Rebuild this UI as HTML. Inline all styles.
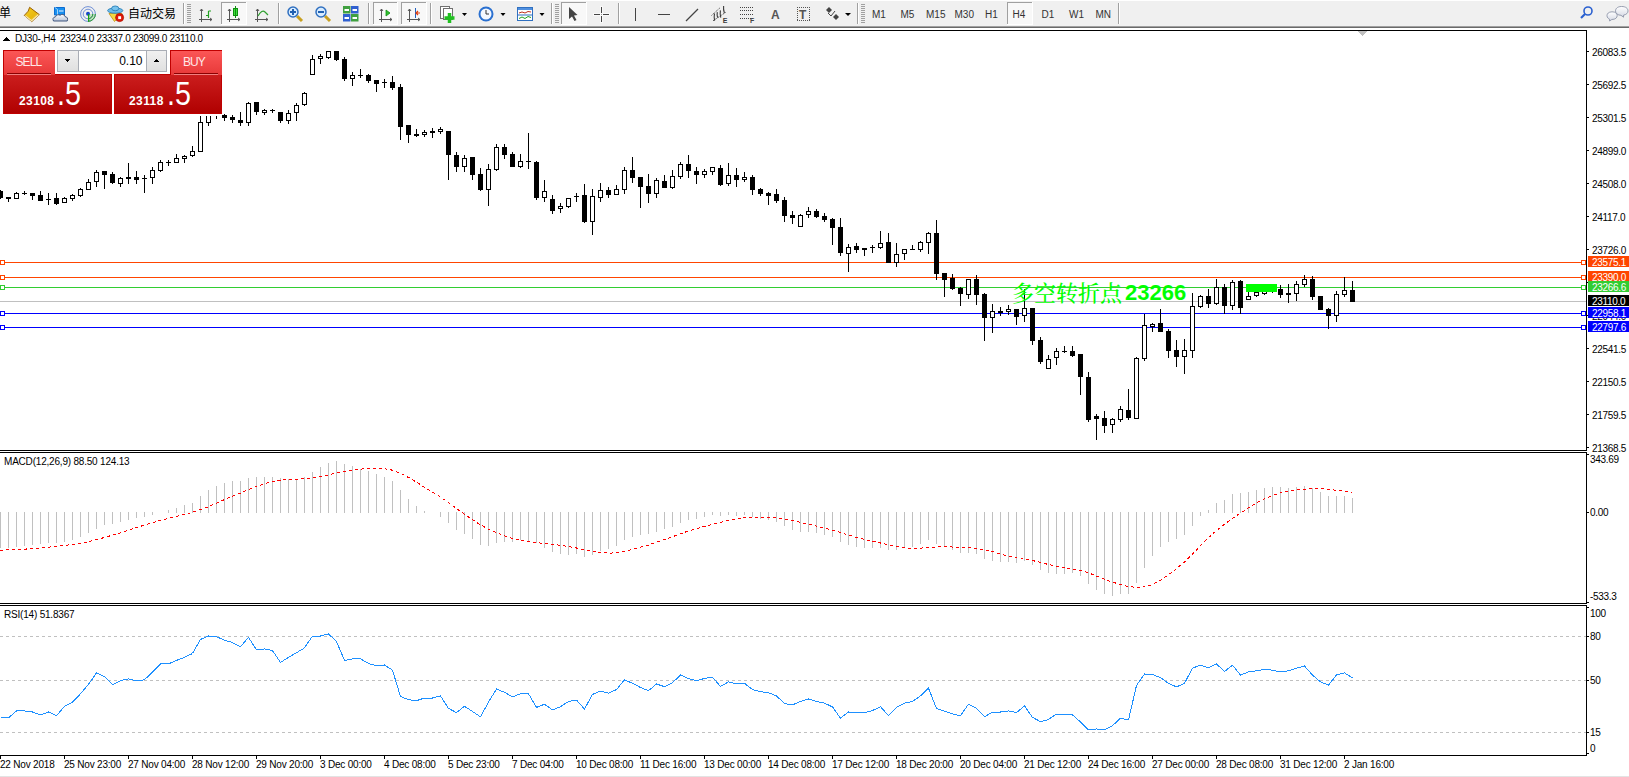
<!DOCTYPE html>
<html><head><meta charset="utf-8"><title>MT4 DJ30 H4</title>
<style>
html,body{margin:0;padding:0;background:#fff;overflow:hidden;}
body{width:1629px;height:777px;position:relative;}
svg{position:absolute;left:0;top:0;display:block;}
text{white-space:pre;}
</style></head><body>
<svg width="1629" height="777" viewBox="0 0 1629 777" shape-rendering="crispEdges">
<g id="toolbar" shape-rendering="auto">
<rect x="0" y="0" width="1629" height="26" fill="#f0f0f0"/>
<rect x="0" y="0" width="1629" height="1" fill="#ffffff"/>
<rect x="0" y="26" width="1629" height="1" fill="#a0a0a0"/>
<rect x="0" y="27" width="1629" height="1" fill="#696969"/>
<text x="-1" y="17" font-family="'Liberation Sans', 'Noto Sans CJK SC', sans-serif" font-size="12" fill="#000">单</text>
<defs><linearGradient id="gGold" x1="0" y1="0" x2="1" y2="1"><stop offset="0" stop-color="#f6d020"/><stop offset="0.6" stop-color="#e8b810"/><stop offset="1" stop-color="#f4e080"/></linearGradient><linearGradient id="gCloud" x1="0" y1="0" x2="0" y2="1"><stop offset="0" stop-color="#ffffff"/><stop offset="1" stop-color="#b8c4d8"/></linearGradient><radialGradient id="gSig" cx="0.3" cy="0.3" r="0.9"><stop offset="0" stop-color="#ffffff"/><stop offset="1" stop-color="#40a040"/></radialGradient></defs>
<path d="M29.6,7.3 L39.3,14.6 L31.8,21.6 L24.3,15.4 L28.2,11.2 Z" fill="url(#gGold)" stroke="#9a6006" stroke-width="1"/><path d="M25.2,15.6 L31.6,20.8 L38.4,14.8" fill="none" stroke="#f8e8b0" stroke-width="1.2"/>
<path d="M54.5,7.5 L64.5,7.5 L64.5,15 L54.5,15 Z" fill="#1890f0" stroke="#0c6cd0"/><path d="M55,7.5 L57.5,9.5 L57.5,15" fill="none" stroke="#bfe4ff" stroke-width="0.8"/><rect x="59" y="10.5" width="4.5" height="1" fill="#e8f4ff"/><path d="M53.5,21 Q51.8,17.5 55.5,16.8 Q56.8,13.8 60.2,15.2 Q63.5,12.8 65,16.6 Q68.6,17.2 67.2,21 Z" fill="url(#gCloud)" stroke="#40567e" stroke-width="1"/>
<path d="M88,14 L88,21.6 A7.6,7.6 0 0 0 95.6,14 Z" fill="#bfe0bf"/><circle cx="88" cy="14" r="7.4" fill="none" stroke="#5078d0" stroke-width="1" opacity="0.8"/><circle cx="88" cy="14" r="4.8" fill="none" stroke="#5078d0" stroke-width="1" opacity="0.8"/><path d="M88,21.4 A7.4,7.4 0 0 0 95.4,14 M88,18.8 A4.8,4.8 0 0 0 92.8,14" fill="none" stroke="#30a030" stroke-width="1"/><circle cx="88" cy="13.8" r="2" fill="#1848c8"/><rect x="88" y="14" width="1.2" height="7.6" fill="#18a018"/>
<path d="M109,13.5 L122,13.5 L114.5,21.5 Z" fill="#f4d840" stroke="#c09010" stroke-width="0.8"/><ellipse cx="115.2" cy="10.6" rx="7.6" ry="2.6" fill="#70bce8" stroke="#2a80b8" stroke-width="0.9"/><ellipse cx="115.2" cy="8.4" rx="3.6" ry="2.4" fill="#78c4ee" stroke="#2a80b8" stroke-width="0.9"/><circle cx="119.6" cy="17.6" r="4" fill="#e01808" stroke="#b01000" stroke-width="0.8"/><rect x="118.2" y="16.2" width="2.9" height="2.9" fill="#fff"/>
<text x="128" y="17.5" font-family="'Liberation Sans', 'Noto Sans CJK SC', sans-serif" font-size="12" fill="#000">自动交易</text>
<rect x="183" y="3" width="1" height="21" fill="#a0a0a0"/>
<rect x="184" y="3" width="1" height="21" fill="#fff"/>
<rect x="187" y="4" width="4" height="1" fill="#a0a0a0"/>
<rect x="187" y="6" width="4" height="1" fill="#a0a0a0"/>
<rect x="187" y="8" width="4" height="1" fill="#a0a0a0"/>
<rect x="187" y="10" width="4" height="1" fill="#a0a0a0"/>
<rect x="187" y="12" width="4" height="1" fill="#a0a0a0"/>
<rect x="187" y="14" width="4" height="1" fill="#a0a0a0"/>
<rect x="187" y="16" width="4" height="1" fill="#a0a0a0"/>
<rect x="187" y="18" width="4" height="1" fill="#a0a0a0"/>
<rect x="187" y="20" width="4" height="1" fill="#a0a0a0"/>
<rect x="187" y="22" width="4" height="1" fill="#a0a0a0"/>
<path d="M201.5,9 V22 M199,19.5 H212" stroke="#555" stroke-width="1" fill="none"/><path d="M200,11 L201.5,9 L203,11" stroke="#555" fill="none"/><path d="M210,18 L212,19.5 L210,21" stroke="#555" fill="none"/>
<path d="M208.5,11 V18 M206,15.5 H208.5 M208.5,11 H211" stroke="#20a020" stroke-width="1.2" fill="none"/>
<rect x="221" y="2" width="25" height="22" fill="#f8f8f8"/>
<rect x="221" y="2" width="25" height="1" fill="#a0a0a0"/>
<rect x="221" y="2" width="1" height="22" fill="#a0a0a0"/>
<rect x="221" y="24" width="26" height="1" fill="#fff"/>
<rect x="246" y="2" width="1" height="23" fill="#fff"/>
<path d="M229.5,9 V22 M227,19.5 H240" stroke="#555" stroke-width="1" fill="none"/><path d="M228,11 L229.5,9 L231,11" stroke="#555" fill="none"/><path d="M238,18 L240,19.5 L238,21" stroke="#555" fill="none"/>
<rect x="233.5" y="8.5" width="4" height="7" fill="#40e040" stroke="#109010"/><rect x="235" y="6" width="1" height="12" fill="#109010"/>
<path d="M257.5,9 V22 M255,19.5 H268" stroke="#555" stroke-width="1" fill="none"/><path d="M256,11 L257.5,9 L259,11" stroke="#555" fill="none"/><path d="M266,18 L268,19.5 L266,21" stroke="#555" fill="none"/>
<path d="M258,16 Q262,9 265,12 L268,15" stroke="#30a030" stroke-width="1.2" fill="none"/>
<rect x="278" y="3" width="1" height="21" fill="#a0a0a0"/>
<rect x="279" y="3" width="1" height="21" fill="#fff"/>
<line x1="296" y1="0" x2="0" y2="0" stroke="none"/>
<path d="M297,16 L302,21" stroke="#c8a020" stroke-width="3"/><circle cx="293" cy="12" r="5" fill="#d8ecff" stroke="#3070c0" stroke-width="1.5"/><rect x="290" y="11" width="6" height="2" fill="#2060b0"/>
<rect x="292" y="9" width="2" height="6" fill="#2060b0"/>
<line x1="324" y1="28" x2="0" y2="0" stroke="none"/>
<path d="M325,16 L330,21" stroke="#c8a020" stroke-width="3"/><circle cx="321" cy="12" r="5" fill="#d8ecff" stroke="#3070c0" stroke-width="1.5"/><rect x="318" y="11" width="6" height="2" fill="#2060b0"/>
<rect x="343" y="6" width="7.5" height="7.5" fill="#40a040"/><rect x="351" y="6" width="7.5" height="7.5" fill="#3060d0"/><rect x="343" y="14" width="7.5" height="7.5" fill="#3060d0"/><rect x="351" y="14" width="7.5" height="7.5" fill="#40a040"/><rect x="344.5" y="9" width="4.5" height="2" fill="#fff"/><rect x="352.5" y="9" width="4.5" height="2" fill="#fff"/><rect x="344.5" y="17" width="4.5" height="2" fill="#fff"/><rect x="352.5" y="17" width="4.5" height="2" fill="#fff"/>
<rect x="368" y="3" width="1" height="21" fill="#a0a0a0"/>
<rect x="369" y="3" width="1" height="21" fill="#fff"/>
<rect x="373" y="2" width="24" height="22" fill="#f8f8f8"/>
<rect x="373" y="2" width="24" height="1" fill="#a0a0a0"/>
<rect x="373" y="2" width="1" height="22" fill="#a0a0a0"/>
<rect x="373" y="24" width="25" height="1" fill="#fff"/>
<rect x="397" y="2" width="1" height="23" fill="#fff"/>
<path d="M381.5,9 V22 M379,19.5 H392" stroke="#555" stroke-width="1" fill="none"/><path d="M380,11 L381.5,9 L383,11" stroke="#555" fill="none"/><path d="M390,18 L392,19.5 L390,21" stroke="#555" fill="none"/>
<polygon points="386,10 386,16 390,13" fill="#30c030" stroke="#109010" stroke-width="0.8"/>
<rect x="401" y="2" width="25" height="22" fill="#f8f8f8"/>
<rect x="401" y="2" width="25" height="1" fill="#a0a0a0"/>
<rect x="401" y="2" width="1" height="22" fill="#a0a0a0"/>
<rect x="401" y="24" width="26" height="1" fill="#fff"/>
<rect x="426" y="2" width="1" height="23" fill="#fff"/>
<path d="M409.5,9 V22 M407,19.5 H420" stroke="#555" stroke-width="1" fill="none"/><path d="M408,11 L409.5,9 L411,11" stroke="#555" fill="none"/><path d="M418,18 L420,19.5 L418,21" stroke="#555" fill="none"/>
<rect x="415" y="8" width="1" height="10" fill="#2060c0"/><path d="M420,13 H416.5 M418,11 L416,13 L418,15" stroke="#e04010" stroke-width="1.2" fill="none"/>
<rect x="430" y="3" width="1" height="21" fill="#a0a0a0"/>
<rect x="431" y="3" width="1" height="21" fill="#fff"/>
<rect x="440.5" y="6.5" width="9" height="12" fill="#fff" stroke="#707070"/><rect x="443.5" y="8.5" width="9" height="11" fill="#fff" stroke="#707070"/><path d="M449.5,13 V23 M444.5,18 H454.5" stroke="#20c020" stroke-width="3.5"/>
<polygon points="462,13 467,13 464.5,16" fill="#000"/>
<circle cx="486" cy="14" r="7.5" fill="#2a70d0"/><circle cx="486" cy="14" r="5.5" fill="#f4f8ff"/><path d="M486,10 V14 H489" stroke="#333" fill="none"/>
<polygon points="500.5,13 505.5,13 503,16" fill="#000"/>
<rect x="517.5" y="7.5" width="15" height="13" fill="#fff" stroke="#3070c0"/><rect x="518" y="8" width="14" height="2" fill="#5090e0"/><path d="M519,13 L522,12 L525,13 L528,11.5 L531,12" stroke="#c03020" fill="none"/><rect x="518" y="14.5" width="14" height="1" fill="#3070c0"/><path d="M519,18.5 L522,17 L525,18.5 L528,16.5 L531,17.5" stroke="#20a020" fill="none"/>
<polygon points="539.5,13 544.5,13 542,16" fill="#000"/>
<rect x="551" y="3" width="1" height="21" fill="#a0a0a0"/>
<rect x="552" y="3" width="1" height="21" fill="#fff"/>
<rect x="555" y="4" width="4" height="1" fill="#a0a0a0"/>
<rect x="555" y="6" width="4" height="1" fill="#a0a0a0"/>
<rect x="555" y="8" width="4" height="1" fill="#a0a0a0"/>
<rect x="555" y="10" width="4" height="1" fill="#a0a0a0"/>
<rect x="555" y="12" width="4" height="1" fill="#a0a0a0"/>
<rect x="555" y="14" width="4" height="1" fill="#a0a0a0"/>
<rect x="555" y="16" width="4" height="1" fill="#a0a0a0"/>
<rect x="555" y="18" width="4" height="1" fill="#a0a0a0"/>
<rect x="555" y="20" width="4" height="1" fill="#a0a0a0"/>
<rect x="555" y="22" width="4" height="1" fill="#a0a0a0"/>
<rect x="561" y="2" width="25" height="22" fill="#f8f8f8"/>
<rect x="561" y="2" width="25" height="1" fill="#a0a0a0"/>
<rect x="561" y="2" width="1" height="22" fill="#a0a0a0"/>
<rect x="561" y="24" width="26" height="1" fill="#fff"/>
<rect x="586" y="2" width="1" height="23" fill="#fff"/>
<polygon points="569,7 569,19 572,16.5 574.5,21 576.5,20 574,15.5 577.5,15" fill="#444"/>
<g shape-rendering="crispEdges"><rect x="600" y="6" width="3" height="8" fill="#f9f9f9"/><rect x="600" y="15" width="3" height="8" fill="#f9f9f9"/><rect x="593" y="13" width="8" height="3" fill="#f9f9f9"/><rect x="602" y="13" width="8" height="3" fill="#f9f9f9"/><rect x="601" y="7" width="1" height="6" fill="#444"/><rect x="601" y="16" width="1" height="6" fill="#444"/><rect x="594" y="14" width="6" height="1" fill="#444"/><rect x="603" y="14" width="6" height="1" fill="#444"/><rect x="601" y="14" width="1" height="1" fill="#999"/></g>
<rect x="618" y="3" width="1" height="21" fill="#a0a0a0"/>
<rect x="619" y="3" width="1" height="21" fill="#fff"/>
<rect x="635" y="8" width="1" height="13" fill="#444"/>
<rect x="658" y="14" width="12" height="1" fill="#444"/>
<path d="M686,21 L698,9" stroke="#444" stroke-width="1.2"/>
<path d="M711.5,15.5 L719.8,8 M713,20.8 L726.2,12" stroke="#555" stroke-width="1" stroke-dasharray="1.2,0.8"/><path d="M714.5,13.5 Q713.8,17 714.6,20.6 M717.3,12.2 Q716.8,15 717.6,17.6 M720.4,10.4 Q719.8,14 720.8,17.6 M723.6,6 Q723.2,9.5 724.4,13.2" stroke="#3a3a3a" stroke-width="1.1" fill="none"/>
<text x="722.8" y="23" font-family="'Liberation Sans', 'DejaVu Sans', sans-serif" font-size="7" font-weight="bold" fill="#3a3a3a">E</text>
<line x1="740" y1="7.5" x2="754" y2="7.5" stroke="#444" stroke-dasharray="1,1"/>
<line x1="740" y1="10.5" x2="754" y2="10.5" stroke="#444" stroke-dasharray="1,1"/>
<line x1="740" y1="14.5" x2="754" y2="14.5" stroke="#444" stroke-dasharray="1,1"/>
<line x1="740" y1="18.5" x2="754" y2="18.5" stroke="#444" stroke-dasharray="1,1"/>
<text x="750" y="23" font-family="'Liberation Sans', 'DejaVu Sans', sans-serif" font-size="7" font-weight="bold" fill="#444">F</text>
<text x="771" y="19" font-family="'Liberation Sans', 'DejaVu Sans', sans-serif" font-size="12" font-weight="bold" fill="#555">A</text>
<g shape-rendering="crispEdges" fill="#555"><rect x="797" y="7" width="1" height="1"/><rect x="797" y="20" width="1" height="1"/><rect x="799" y="7" width="1" height="1"/><rect x="799" y="20" width="1" height="1"/><rect x="801" y="7" width="1" height="1"/><rect x="801" y="20" width="1" height="1"/><rect x="803" y="7" width="1" height="1"/><rect x="803" y="20" width="1" height="1"/><rect x="805" y="7" width="1" height="1"/><rect x="805" y="20" width="1" height="1"/><rect x="807" y="7" width="1" height="1"/><rect x="807" y="20" width="1" height="1"/><rect x="809" y="7" width="1" height="1"/><rect x="809" y="20" width="1" height="1"/><rect x="797" y="7" width="1" height="1"/><rect x="809" y="7" width="1" height="1"/><rect x="797" y="9" width="1" height="1"/><rect x="809" y="9" width="1" height="1"/><rect x="797" y="11" width="1" height="1"/><rect x="809" y="11" width="1" height="1"/><rect x="797" y="13" width="1" height="1"/><rect x="809" y="13" width="1" height="1"/><rect x="797" y="15" width="1" height="1"/><rect x="809" y="15" width="1" height="1"/><rect x="797" y="17" width="1" height="1"/><rect x="809" y="17" width="1" height="1"/><rect x="797" y="19" width="1" height="1"/><rect x="809" y="19" width="1" height="1"/></g>
<text x="799" y="19" font-family="'Liberation Sans', 'DejaVu Sans', sans-serif" font-size="12" font-weight="bold" fill="#555">T</text>
<polygon points="826,10 829,7 832,10 829,13" fill="#444"/><polygon points="833,17 836,14 839,17 836,20" fill="#444"/><path d="M828,13 L831,16 L835,11" stroke="#444" fill="none"/>
<polygon points="845,13 851,13 848,16" fill="#000"/>
<rect x="857" y="3" width="1" height="21" fill="#a0a0a0"/>
<rect x="858" y="3" width="1" height="21" fill="#fff"/>
<rect x="861" y="4" width="4" height="1" fill="#a0a0a0"/>
<rect x="861" y="6" width="4" height="1" fill="#a0a0a0"/>
<rect x="861" y="8" width="4" height="1" fill="#a0a0a0"/>
<rect x="861" y="10" width="4" height="1" fill="#a0a0a0"/>
<rect x="861" y="12" width="4" height="1" fill="#a0a0a0"/>
<rect x="861" y="14" width="4" height="1" fill="#a0a0a0"/>
<rect x="861" y="16" width="4" height="1" fill="#a0a0a0"/>
<rect x="861" y="18" width="4" height="1" fill="#a0a0a0"/>
<rect x="861" y="20" width="4" height="1" fill="#a0a0a0"/>
<rect x="861" y="22" width="4" height="1" fill="#a0a0a0"/>
<rect x="1007" y="2" width="25" height="22" fill="#f8f8f8"/>
<rect x="1007" y="2" width="25" height="1" fill="#a0a0a0"/>
<rect x="1007" y="2" width="1" height="22" fill="#a0a0a0"/>
<rect x="1007" y="24" width="26" height="1" fill="#fff"/>
<rect x="1032" y="2" width="1" height="23" fill="#fff"/>
<text x="872" y="18" font-family="'Liberation Sans', 'DejaVu Sans', sans-serif" font-size="10" fill="#333">M1</text>
<text x="900.5" y="18" font-family="'Liberation Sans', 'DejaVu Sans', sans-serif" font-size="10" fill="#333">M5</text>
<text x="926" y="18" font-family="'Liberation Sans', 'DejaVu Sans', sans-serif" font-size="10" fill="#333">M15</text>
<text x="954.5" y="18" font-family="'Liberation Sans', 'DejaVu Sans', sans-serif" font-size="10" fill="#333">M30</text>
<text x="985" y="18" font-family="'Liberation Sans', 'DejaVu Sans', sans-serif" font-size="10" fill="#333">H1</text>
<text x="1012.5" y="18" font-family="'Liberation Sans', 'DejaVu Sans', sans-serif" font-size="10" fill="#333">H4</text>
<text x="1041.5" y="18" font-family="'Liberation Sans', 'DejaVu Sans', sans-serif" font-size="10" fill="#333">D1</text>
<text x="1069" y="18" font-family="'Liberation Sans', 'DejaVu Sans', sans-serif" font-size="10" fill="#333">W1</text>
<text x="1095.5" y="18" font-family="'Liberation Sans', 'DejaVu Sans', sans-serif" font-size="10" fill="#333">MN</text>
<rect x="1118" y="3" width="1" height="21" fill="#a0a0a0"/>
<rect x="1119" y="3" width="1" height="21" fill="#fff"/>
<circle cx="1588" cy="11" r="4" fill="none" stroke="#2a60d0" stroke-width="1.6"/><path d="M1585,14 L1581,18" stroke="#2a60d0" stroke-width="2.2"/>
<defs><linearGradient id="gBub" x1="0" y1="0" x2="0" y2="1"><stop offset="0" stop-color="#ffffff"/><stop offset="1" stop-color="#d4d8e4"/></linearGradient></defs>
<path d="M1621.5,6.5 C1617,6.5 1615.5,9 1615.5,11 C1615.5,13.5 1618,15.3 1621,15.3 L1623.5,17.2 L1623.6,15.1 C1626.5,14.5 1628,13 1628,11 C1628,8.5 1626,6.5 1621.5,6.5 Z" fill="url(#gBub)" stroke="#8c94a8" stroke-width="0.9"/>
<path d="M1612,11.8 C1608.5,11.8 1607,13.8 1607,15.6 C1607,17.5 1608.4,18.8 1609.6,19.2 L1609.6,21 L1611.8,19.5 C1615.5,19.5 1617.2,17.6 1617.2,15.6 C1617.2,13.4 1615.5,11.8 1612,11.8 Z" fill="url(#gBub)" stroke="#8c94a8" stroke-width="0.9"/>
</g>
<g id="chart">
<rect x="0" y="30" width="1587" height="1" fill="#000"/>
<rect x="1586" y="30" width="1" height="421" fill="#000"/>
<rect x="0" y="450" width="1587" height="1" fill="#000"/>
<rect x="0" y="452" width="1587" height="1" fill="#000"/>
<rect x="1586" y="452" width="1" height="152" fill="#000"/>
<rect x="0" y="603" width="1587" height="1" fill="#000"/>
<rect x="0" y="605" width="1587" height="1" fill="#000"/>
<rect x="1586" y="605" width="1" height="151" fill="#000"/>
<rect x="0" y="755" width="1587" height="1" fill="#000"/>
<polygon points="1358,31 1367,31 1362.5,36" fill="#c0c0c0"/>
<rect x="0" y="262" width="1586" height="1" fill="#ff4500"/>
<rect x="0.5" y="260.5" width="4" height="4" fill="#fff" stroke="#ff4500" stroke-width="1"/>
<rect x="1581.5" y="260.5" width="4" height="4" fill="#fff" stroke="#ff4500" stroke-width="1"/>
<rect x="0" y="277" width="1586" height="1" fill="#ff4500"/>
<rect x="0.5" y="275.5" width="4" height="4" fill="#fff" stroke="#ff4500" stroke-width="1"/>
<rect x="1581.5" y="275.5" width="4" height="4" fill="#fff" stroke="#ff4500" stroke-width="1"/>
<rect x="0" y="287" width="1586" height="1" fill="#32cd32"/>
<rect x="0.5" y="285.5" width="4" height="4" fill="#fff" stroke="#32cd32" stroke-width="1"/>
<rect x="1581.5" y="285.5" width="4" height="4" fill="#fff" stroke="#32cd32" stroke-width="1"/>
<rect x="0" y="301" width="1586" height="1" fill="#c0c0c0"/>
<rect x="0" y="313" width="1586" height="1" fill="#0000ff"/>
<rect x="0.5" y="311.5" width="4" height="4" fill="#fff" stroke="#0000ff" stroke-width="1"/>
<rect x="1581.5" y="311.5" width="4" height="4" fill="#fff" stroke="#0000ff" stroke-width="1"/>
<rect x="0" y="327" width="1586" height="1" fill="#0000ff"/>
<rect x="0.5" y="325.5" width="4" height="4" fill="#fff" stroke="#0000ff" stroke-width="1"/>
<rect x="1581.5" y="325.5" width="4" height="4" fill="#fff" stroke="#0000ff" stroke-width="1"/>
<rect x="0" y="190" width="1" height="9" fill="#000"/>
<rect x="-2" y="191" width="5" height="7" fill="#000"/>
<rect x="8" y="197" width="1" height="5" fill="#000"/>
<rect x="6" y="197" width="5" height="2" fill="#000"/>
<rect x="16" y="192" width="1" height="7" fill="#000"/>
<rect x="14" y="193" width="5" height="6" fill="#000"/>
<rect x="15" y="194" width="3" height="4" fill="#fff"/>
<rect x="24" y="191" width="1" height="4" fill="#000"/>
<rect x="22" y="193" width="5" height="1" fill="#000"/>
<rect x="32" y="193" width="1" height="7" fill="#000"/>
<rect x="30" y="193" width="5" height="3" fill="#000"/>
<rect x="40" y="191" width="1" height="10" fill="#000"/>
<rect x="38" y="195" width="5" height="6" fill="#000"/>
<rect x="48" y="193" width="1" height="12" fill="#000"/>
<rect x="46" y="199" width="5" height="1" fill="#000"/>
<rect x="56" y="193" width="1" height="12" fill="#000"/>
<rect x="54" y="198" width="5" height="6" fill="#000"/>
<rect x="64" y="197" width="1" height="6" fill="#000"/>
<rect x="62" y="198" width="5" height="5" fill="#000"/>
<rect x="63" y="199" width="3" height="3" fill="#fff"/>
<rect x="72" y="194" width="1" height="7" fill="#000"/>
<rect x="70" y="195" width="5" height="4" fill="#000"/>
<rect x="71" y="196" width="3" height="2" fill="#fff"/>
<rect x="80" y="188" width="1" height="9" fill="#000"/>
<rect x="78" y="189" width="5" height="7" fill="#000"/>
<rect x="79" y="190" width="3" height="5" fill="#fff"/>
<rect x="88" y="179" width="1" height="11" fill="#000"/>
<rect x="86" y="182" width="5" height="8" fill="#000"/>
<rect x="87" y="183" width="3" height="6" fill="#fff"/>
<rect x="96" y="170" width="1" height="17" fill="#000"/>
<rect x="94" y="172" width="5" height="10" fill="#000"/>
<rect x="95" y="173" width="3" height="8" fill="#fff"/>
<rect x="104" y="171" width="1" height="18" fill="#000"/>
<rect x="102" y="171" width="5" height="4" fill="#000"/>
<rect x="112" y="172" width="1" height="12" fill="#000"/>
<rect x="110" y="174" width="5" height="9" fill="#000"/>
<rect x="120" y="177" width="1" height="10" fill="#000"/>
<rect x="118" y="178" width="5" height="6" fill="#000"/>
<rect x="119" y="179" width="3" height="4" fill="#fff"/>
<rect x="128" y="163" width="1" height="21" fill="#000"/>
<rect x="126" y="177" width="5" height="2" fill="#000"/>
<rect x="136" y="171" width="1" height="13" fill="#000"/>
<rect x="134" y="177" width="5" height="3" fill="#000"/>
<rect x="144" y="175" width="1" height="18" fill="#000"/>
<rect x="142" y="178" width="5" height="1" fill="#000"/>
<rect x="152" y="167" width="1" height="17" fill="#000"/>
<rect x="150" y="170" width="5" height="8" fill="#000"/>
<rect x="151" y="171" width="3" height="6" fill="#fff"/>
<rect x="160" y="160" width="1" height="12" fill="#000"/>
<rect x="158" y="162" width="5" height="9" fill="#000"/>
<rect x="159" y="163" width="3" height="7" fill="#fff"/>
<rect x="168" y="160" width="1" height="6" fill="#000"/>
<rect x="166" y="162" width="5" height="1" fill="#000"/>
<rect x="176" y="154" width="1" height="9" fill="#000"/>
<rect x="174" y="158" width="5" height="5" fill="#000"/>
<rect x="175" y="159" width="3" height="3" fill="#fff"/>
<rect x="184" y="155" width="1" height="8" fill="#000"/>
<rect x="182" y="156" width="5" height="3" fill="#000"/>
<rect x="183" y="157" width="3" height="1" fill="#fff"/>
<rect x="192" y="146" width="1" height="11" fill="#000"/>
<rect x="190" y="151" width="5" height="5" fill="#000"/>
<rect x="191" y="152" width="3" height="3" fill="#fff"/>
<rect x="200" y="116" width="1" height="36" fill="#000"/>
<rect x="198" y="122" width="5" height="30" fill="#000"/>
<rect x="199" y="123" width="3" height="28" fill="#fff"/>
<rect x="208" y="108" width="1" height="18" fill="#000"/>
<rect x="206" y="110" width="5" height="13" fill="#000"/>
<rect x="207" y="111" width="3" height="11" fill="#fff"/>
<rect x="216" y="102" width="1" height="17" fill="#000"/>
<rect x="214" y="104" width="5" height="8" fill="#000"/>
<rect x="224" y="114" width="1" height="7" fill="#000"/>
<rect x="222" y="115" width="5" height="3" fill="#000"/>
<rect x="232" y="115" width="1" height="8" fill="#000"/>
<rect x="230" y="117" width="5" height="3" fill="#000"/>
<rect x="240" y="112" width="1" height="14" fill="#000"/>
<rect x="238" y="120" width="5" height="3" fill="#000"/>
<rect x="248" y="102" width="1" height="24" fill="#000"/>
<rect x="246" y="103" width="5" height="20" fill="#000"/>
<rect x="247" y="104" width="3" height="18" fill="#fff"/>
<rect x="256" y="102" width="1" height="13" fill="#000"/>
<rect x="254" y="102" width="5" height="10" fill="#000"/>
<rect x="264" y="109" width="1" height="6" fill="#000"/>
<rect x="262" y="110" width="5" height="3" fill="#000"/>
<rect x="263" y="111" width="3" height="1" fill="#fff"/>
<rect x="272" y="109" width="1" height="4" fill="#000"/>
<rect x="270" y="110" width="5" height="1" fill="#000"/>
<rect x="280" y="112" width="1" height="11" fill="#000"/>
<rect x="278" y="112" width="5" height="9" fill="#000"/>
<rect x="288" y="110" width="1" height="14" fill="#000"/>
<rect x="286" y="113" width="5" height="8" fill="#000"/>
<rect x="287" y="114" width="3" height="6" fill="#fff"/>
<rect x="296" y="103" width="1" height="18" fill="#000"/>
<rect x="294" y="105" width="5" height="8" fill="#000"/>
<rect x="295" y="106" width="3" height="6" fill="#fff"/>
<rect x="304" y="92" width="1" height="14" fill="#000"/>
<rect x="302" y="93" width="5" height="12" fill="#000"/>
<rect x="303" y="94" width="3" height="10" fill="#fff"/>
<rect x="312" y="55" width="1" height="20" fill="#000"/>
<rect x="310" y="59" width="5" height="16" fill="#000"/>
<rect x="311" y="60" width="3" height="14" fill="#fff"/>
<rect x="320" y="54" width="1" height="10" fill="#000"/>
<rect x="318" y="56" width="5" height="3" fill="#000"/>
<rect x="319" y="57" width="3" height="1" fill="#fff"/>
<rect x="328" y="51" width="1" height="8" fill="#000"/>
<rect x="326" y="51" width="5" height="7" fill="#000"/>
<rect x="327" y="52" width="3" height="5" fill="#fff"/>
<rect x="336" y="51" width="1" height="10" fill="#000"/>
<rect x="334" y="51" width="5" height="9" fill="#000"/>
<rect x="344" y="57" width="1" height="24" fill="#000"/>
<rect x="342" y="59" width="5" height="20" fill="#000"/>
<rect x="352" y="72" width="1" height="14" fill="#000"/>
<rect x="350" y="75" width="5" height="4" fill="#000"/>
<rect x="351" y="76" width="3" height="2" fill="#fff"/>
<rect x="360" y="69" width="1" height="9" fill="#000"/>
<rect x="358" y="75" width="5" height="1" fill="#000"/>
<rect x="368" y="74" width="1" height="9" fill="#000"/>
<rect x="366" y="75" width="5" height="6" fill="#000"/>
<rect x="376" y="80" width="1" height="12" fill="#000"/>
<rect x="374" y="80" width="5" height="4" fill="#000"/>
<rect x="384" y="79" width="1" height="9" fill="#000"/>
<rect x="382" y="82" width="5" height="1" fill="#000"/>
<rect x="392" y="76" width="1" height="14" fill="#000"/>
<rect x="390" y="82" width="5" height="6" fill="#000"/>
<rect x="400" y="84" width="1" height="56" fill="#000"/>
<rect x="398" y="87" width="5" height="40" fill="#000"/>
<rect x="408" y="125" width="1" height="18" fill="#000"/>
<rect x="406" y="125" width="5" height="10" fill="#000"/>
<rect x="416" y="129" width="1" height="8" fill="#000"/>
<rect x="414" y="134" width="5" height="2" fill="#000"/>
<rect x="424" y="130" width="1" height="7" fill="#000"/>
<rect x="422" y="132" width="5" height="3" fill="#000"/>
<rect x="423" y="133" width="3" height="1" fill="#fff"/>
<rect x="432" y="128" width="1" height="10" fill="#000"/>
<rect x="430" y="131" width="5" height="2" fill="#000"/>
<rect x="440" y="127" width="1" height="7" fill="#000"/>
<rect x="438" y="129" width="5" height="3" fill="#000"/>
<rect x="439" y="130" width="3" height="1" fill="#fff"/>
<rect x="448" y="131" width="1" height="49" fill="#000"/>
<rect x="446" y="131" width="5" height="24" fill="#000"/>
<rect x="456" y="152" width="1" height="20" fill="#000"/>
<rect x="454" y="155" width="5" height="12" fill="#000"/>
<rect x="464" y="155" width="1" height="17" fill="#000"/>
<rect x="462" y="158" width="5" height="9" fill="#000"/>
<rect x="463" y="159" width="3" height="7" fill="#fff"/>
<rect x="472" y="157" width="1" height="23" fill="#000"/>
<rect x="470" y="157" width="5" height="18" fill="#000"/>
<rect x="480" y="168" width="1" height="23" fill="#000"/>
<rect x="478" y="174" width="5" height="16" fill="#000"/>
<rect x="488" y="164" width="1" height="42" fill="#000"/>
<rect x="486" y="169" width="5" height="21" fill="#000"/>
<rect x="487" y="170" width="3" height="19" fill="#fff"/>
<rect x="496" y="144" width="1" height="27" fill="#000"/>
<rect x="494" y="147" width="5" height="23" fill="#000"/>
<rect x="495" y="148" width="3" height="21" fill="#fff"/>
<rect x="504" y="144" width="1" height="15" fill="#000"/>
<rect x="502" y="147" width="5" height="8" fill="#000"/>
<rect x="512" y="152" width="1" height="15" fill="#000"/>
<rect x="510" y="154" width="5" height="13" fill="#000"/>
<rect x="520" y="154" width="1" height="14" fill="#000"/>
<rect x="518" y="161" width="5" height="6" fill="#000"/>
<rect x="519" y="162" width="3" height="4" fill="#fff"/>
<rect x="528" y="133" width="1" height="36" fill="#000"/>
<rect x="526" y="161" width="5" height="1" fill="#000"/>
<rect x="536" y="161" width="1" height="39" fill="#000"/>
<rect x="534" y="162" width="5" height="36" fill="#000"/>
<rect x="544" y="180" width="1" height="22" fill="#000"/>
<rect x="542" y="191" width="5" height="7" fill="#000"/>
<rect x="543" y="192" width="3" height="5" fill="#fff"/>
<rect x="552" y="195" width="1" height="19" fill="#000"/>
<rect x="550" y="199" width="5" height="12" fill="#000"/>
<rect x="560" y="203" width="1" height="10" fill="#000"/>
<rect x="558" y="206" width="5" height="3" fill="#000"/>
<rect x="559" y="207" width="3" height="1" fill="#fff"/>
<rect x="568" y="198" width="1" height="10" fill="#000"/>
<rect x="566" y="198" width="5" height="9" fill="#000"/>
<rect x="567" y="199" width="3" height="7" fill="#fff"/>
<rect x="576" y="193" width="1" height="9" fill="#000"/>
<rect x="574" y="196" width="5" height="1" fill="#000"/>
<rect x="584" y="184" width="1" height="39" fill="#000"/>
<rect x="582" y="195" width="5" height="27" fill="#000"/>
<rect x="592" y="189" width="1" height="46" fill="#000"/>
<rect x="590" y="196" width="5" height="26" fill="#000"/>
<rect x="591" y="197" width="3" height="24" fill="#fff"/>
<rect x="600" y="183" width="1" height="19" fill="#000"/>
<rect x="598" y="190" width="5" height="8" fill="#000"/>
<rect x="599" y="191" width="3" height="6" fill="#fff"/>
<rect x="608" y="187" width="1" height="11" fill="#000"/>
<rect x="606" y="190" width="5" height="5" fill="#000"/>
<rect x="616" y="185" width="1" height="10" fill="#000"/>
<rect x="614" y="189" width="5" height="6" fill="#000"/>
<rect x="615" y="190" width="3" height="4" fill="#fff"/>
<rect x="624" y="167" width="1" height="27" fill="#000"/>
<rect x="622" y="170" width="5" height="20" fill="#000"/>
<rect x="623" y="171" width="3" height="18" fill="#fff"/>
<rect x="632" y="157" width="1" height="26" fill="#000"/>
<rect x="630" y="170" width="5" height="8" fill="#000"/>
<rect x="640" y="177" width="1" height="31" fill="#000"/>
<rect x="638" y="177" width="5" height="10" fill="#000"/>
<rect x="648" y="174" width="1" height="29" fill="#000"/>
<rect x="646" y="186" width="5" height="8" fill="#000"/>
<rect x="656" y="178" width="1" height="20" fill="#000"/>
<rect x="654" y="180" width="5" height="14" fill="#000"/>
<rect x="655" y="181" width="3" height="12" fill="#fff"/>
<rect x="664" y="175" width="1" height="13" fill="#000"/>
<rect x="662" y="181" width="5" height="7" fill="#000"/>
<rect x="672" y="170" width="1" height="19" fill="#000"/>
<rect x="670" y="176" width="5" height="12" fill="#000"/>
<rect x="671" y="177" width="3" height="10" fill="#fff"/>
<rect x="680" y="162" width="1" height="17" fill="#000"/>
<rect x="678" y="164" width="5" height="13" fill="#000"/>
<rect x="679" y="165" width="3" height="11" fill="#fff"/>
<rect x="688" y="155" width="1" height="23" fill="#000"/>
<rect x="686" y="164" width="5" height="7" fill="#000"/>
<rect x="696" y="167" width="1" height="17" fill="#000"/>
<rect x="694" y="171" width="5" height="4" fill="#000"/>
<rect x="704" y="169" width="1" height="9" fill="#000"/>
<rect x="702" y="171" width="5" height="4" fill="#000"/>
<rect x="703" y="172" width="3" height="2" fill="#fff"/>
<rect x="712" y="167" width="1" height="8" fill="#000"/>
<rect x="710" y="167" width="5" height="5" fill="#000"/>
<rect x="711" y="168" width="3" height="3" fill="#fff"/>
<rect x="720" y="165" width="1" height="21" fill="#000"/>
<rect x="718" y="168" width="5" height="17" fill="#000"/>
<rect x="728" y="163" width="1" height="23" fill="#000"/>
<rect x="726" y="175" width="5" height="9" fill="#000"/>
<rect x="727" y="176" width="3" height="7" fill="#fff"/>
<rect x="736" y="168" width="1" height="19" fill="#000"/>
<rect x="734" y="175" width="5" height="5" fill="#000"/>
<rect x="744" y="172" width="1" height="10" fill="#000"/>
<rect x="742" y="177" width="5" height="3" fill="#000"/>
<rect x="743" y="178" width="3" height="1" fill="#fff"/>
<rect x="752" y="175" width="1" height="20" fill="#000"/>
<rect x="750" y="177" width="5" height="13" fill="#000"/>
<rect x="760" y="188" width="1" height="8" fill="#000"/>
<rect x="758" y="189" width="5" height="5" fill="#000"/>
<rect x="768" y="192" width="1" height="13" fill="#000"/>
<rect x="766" y="193" width="5" height="3" fill="#000"/>
<rect x="776" y="189" width="1" height="14" fill="#000"/>
<rect x="774" y="194" width="5" height="7" fill="#000"/>
<rect x="784" y="197" width="1" height="25" fill="#000"/>
<rect x="782" y="200" width="5" height="16" fill="#000"/>
<rect x="792" y="211" width="1" height="13" fill="#000"/>
<rect x="790" y="215" width="5" height="3" fill="#000"/>
<rect x="800" y="214" width="1" height="13" fill="#000"/>
<rect x="798" y="215" width="5" height="12" fill="#000"/>
<rect x="799" y="216" width="3" height="10" fill="#fff"/>
<rect x="808" y="207" width="1" height="11" fill="#000"/>
<rect x="806" y="211" width="5" height="4" fill="#000"/>
<rect x="807" y="212" width="3" height="2" fill="#fff"/>
<rect x="816" y="209" width="1" height="9" fill="#000"/>
<rect x="814" y="211" width="5" height="6" fill="#000"/>
<rect x="824" y="213" width="1" height="9" fill="#000"/>
<rect x="822" y="216" width="5" height="4" fill="#000"/>
<rect x="832" y="218" width="1" height="27" fill="#000"/>
<rect x="830" y="219" width="5" height="9" fill="#000"/>
<rect x="840" y="218" width="1" height="38" fill="#000"/>
<rect x="838" y="227" width="5" height="26" fill="#000"/>
<rect x="848" y="244" width="1" height="28" fill="#000"/>
<rect x="846" y="247" width="5" height="7" fill="#000"/>
<rect x="847" y="248" width="3" height="5" fill="#fff"/>
<rect x="856" y="243" width="1" height="10" fill="#000"/>
<rect x="854" y="246" width="5" height="4" fill="#000"/>
<rect x="864" y="248" width="1" height="8" fill="#000"/>
<rect x="862" y="248" width="5" height="2" fill="#000"/>
<rect x="872" y="245" width="1" height="8" fill="#000"/>
<rect x="870" y="247" width="5" height="1" fill="#000"/>
<rect x="880" y="231" width="1" height="18" fill="#000"/>
<rect x="878" y="243" width="5" height="5" fill="#000"/>
<rect x="879" y="244" width="3" height="3" fill="#fff"/>
<rect x="888" y="233" width="1" height="30" fill="#000"/>
<rect x="886" y="242" width="5" height="21" fill="#000"/>
<rect x="896" y="243" width="1" height="24" fill="#000"/>
<rect x="894" y="254" width="5" height="9" fill="#000"/>
<rect x="895" y="255" width="3" height="7" fill="#fff"/>
<rect x="904" y="249" width="1" height="11" fill="#000"/>
<rect x="902" y="249" width="5" height="5" fill="#000"/>
<rect x="903" y="250" width="3" height="3" fill="#fff"/>
<rect x="912" y="245" width="1" height="5" fill="#000"/>
<rect x="910" y="249" width="5" height="1" fill="#000"/>
<rect x="920" y="241" width="1" height="11" fill="#000"/>
<rect x="918" y="242" width="5" height="8" fill="#000"/>
<rect x="919" y="243" width="3" height="6" fill="#fff"/>
<rect x="928" y="232" width="1" height="22" fill="#000"/>
<rect x="926" y="233" width="5" height="10" fill="#000"/>
<rect x="927" y="234" width="3" height="8" fill="#fff"/>
<rect x="936" y="220" width="1" height="60" fill="#000"/>
<rect x="934" y="233" width="5" height="41" fill="#000"/>
<rect x="944" y="273" width="1" height="24" fill="#000"/>
<rect x="942" y="273" width="5" height="7" fill="#000"/>
<rect x="952" y="274" width="1" height="16" fill="#000"/>
<rect x="950" y="278" width="5" height="11" fill="#000"/>
<rect x="960" y="287" width="1" height="19" fill="#000"/>
<rect x="958" y="288" width="5" height="6" fill="#000"/>
<rect x="968" y="279" width="1" height="20" fill="#000"/>
<rect x="966" y="279" width="5" height="16" fill="#000"/>
<rect x="967" y="280" width="3" height="14" fill="#fff"/>
<rect x="976" y="275" width="1" height="30" fill="#000"/>
<rect x="974" y="279" width="5" height="16" fill="#000"/>
<rect x="984" y="293" width="1" height="48" fill="#000"/>
<rect x="982" y="294" width="5" height="24" fill="#000"/>
<rect x="992" y="304" width="1" height="29" fill="#000"/>
<rect x="990" y="311" width="5" height="7" fill="#000"/>
<rect x="991" y="312" width="3" height="5" fill="#fff"/>
<rect x="1000" y="307" width="1" height="9" fill="#000"/>
<rect x="998" y="311" width="5" height="2" fill="#000"/>
<rect x="1008" y="305" width="1" height="10" fill="#000"/>
<rect x="1006" y="309" width="5" height="3" fill="#000"/>
<rect x="1007" y="310" width="3" height="1" fill="#fff"/>
<rect x="1016" y="309" width="1" height="16" fill="#000"/>
<rect x="1014" y="309" width="5" height="8" fill="#000"/>
<rect x="1024" y="289" width="1" height="33" fill="#000"/>
<rect x="1022" y="308" width="5" height="8" fill="#000"/>
<rect x="1023" y="309" width="3" height="6" fill="#fff"/>
<rect x="1032" y="308" width="1" height="37" fill="#000"/>
<rect x="1030" y="308" width="5" height="33" fill="#000"/>
<rect x="1040" y="337" width="1" height="27" fill="#000"/>
<rect x="1038" y="340" width="5" height="22" fill="#000"/>
<rect x="1048" y="355" width="1" height="14" fill="#000"/>
<rect x="1046" y="359" width="5" height="10" fill="#000"/>
<rect x="1047" y="360" width="3" height="8" fill="#fff"/>
<rect x="1056" y="348" width="1" height="17" fill="#000"/>
<rect x="1054" y="351" width="5" height="7" fill="#000"/>
<rect x="1055" y="352" width="3" height="5" fill="#fff"/>
<rect x="1064" y="346" width="1" height="7" fill="#000"/>
<rect x="1062" y="351" width="5" height="1" fill="#000"/>
<rect x="1072" y="346" width="1" height="11" fill="#000"/>
<rect x="1070" y="351" width="5" height="5" fill="#000"/>
<rect x="1080" y="354" width="1" height="41" fill="#000"/>
<rect x="1078" y="354" width="5" height="23" fill="#000"/>
<rect x="1088" y="372" width="1" height="50" fill="#000"/>
<rect x="1086" y="377" width="5" height="43" fill="#000"/>
<rect x="1096" y="414" width="1" height="26" fill="#000"/>
<rect x="1094" y="416" width="5" height="3" fill="#000"/>
<rect x="1104" y="411" width="1" height="22" fill="#000"/>
<rect x="1102" y="418" width="5" height="8" fill="#000"/>
<rect x="1112" y="418" width="1" height="15" fill="#000"/>
<rect x="1110" y="419" width="5" height="6" fill="#000"/>
<rect x="1111" y="420" width="3" height="4" fill="#fff"/>
<rect x="1120" y="406" width="1" height="16" fill="#000"/>
<rect x="1118" y="409" width="5" height="11" fill="#000"/>
<rect x="1119" y="410" width="3" height="9" fill="#fff"/>
<rect x="1128" y="389" width="1" height="31" fill="#000"/>
<rect x="1126" y="410" width="5" height="8" fill="#000"/>
<rect x="1136" y="357" width="1" height="62" fill="#000"/>
<rect x="1134" y="358" width="5" height="61" fill="#000"/>
<rect x="1135" y="359" width="3" height="59" fill="#fff"/>
<rect x="1144" y="314" width="1" height="47" fill="#000"/>
<rect x="1142" y="325" width="5" height="34" fill="#000"/>
<rect x="1143" y="326" width="3" height="32" fill="#fff"/>
<rect x="1152" y="323" width="1" height="9" fill="#000"/>
<rect x="1150" y="324" width="5" height="3" fill="#000"/>
<rect x="1151" y="325" width="3" height="1" fill="#fff"/>
<rect x="1160" y="309" width="1" height="23" fill="#000"/>
<rect x="1158" y="323" width="5" height="9" fill="#000"/>
<rect x="1168" y="329" width="1" height="29" fill="#000"/>
<rect x="1166" y="331" width="5" height="20" fill="#000"/>
<rect x="1176" y="340" width="1" height="27" fill="#000"/>
<rect x="1174" y="350" width="5" height="7" fill="#000"/>
<rect x="1184" y="339" width="1" height="35" fill="#000"/>
<rect x="1182" y="350" width="5" height="7" fill="#000"/>
<rect x="1183" y="351" width="3" height="5" fill="#fff"/>
<rect x="1192" y="293" width="1" height="65" fill="#000"/>
<rect x="1190" y="306" width="5" height="45" fill="#000"/>
<rect x="1191" y="307" width="3" height="43" fill="#fff"/>
<rect x="1200" y="295" width="1" height="13" fill="#000"/>
<rect x="1198" y="296" width="5" height="11" fill="#000"/>
<rect x="1199" y="297" width="3" height="9" fill="#fff"/>
<rect x="1208" y="289" width="1" height="19" fill="#000"/>
<rect x="1206" y="296" width="5" height="8" fill="#000"/>
<rect x="1216" y="279" width="1" height="26" fill="#000"/>
<rect x="1214" y="287" width="5" height="17" fill="#000"/>
<rect x="1215" y="288" width="3" height="15" fill="#fff"/>
<rect x="1224" y="284" width="1" height="30" fill="#000"/>
<rect x="1222" y="287" width="5" height="19" fill="#000"/>
<rect x="1232" y="280" width="1" height="30" fill="#000"/>
<rect x="1230" y="282" width="5" height="24" fill="#000"/>
<rect x="1231" y="283" width="3" height="22" fill="#fff"/>
<rect x="1240" y="280" width="1" height="34" fill="#000"/>
<rect x="1238" y="281" width="5" height="27" fill="#000"/>
<rect x="1248" y="292" width="1" height="8" fill="#000"/>
<rect x="1246" y="296" width="5" height="4" fill="#000"/>
<rect x="1247" y="297" width="3" height="2" fill="#fff"/>
<rect x="1256" y="290" width="1" height="7" fill="#000"/>
<rect x="1254" y="292" width="5" height="4" fill="#000"/>
<rect x="1255" y="293" width="3" height="2" fill="#fff"/>
<rect x="1264" y="289" width="1" height="6" fill="#000"/>
<rect x="1262" y="291" width="5" height="3" fill="#000"/>
<rect x="1263" y="292" width="3" height="1" fill="#fff"/>
<rect x="1272" y="288" width="1" height="5" fill="#000"/>
<rect x="1270" y="289" width="5" height="3" fill="#000"/>
<rect x="1271" y="290" width="3" height="1" fill="#fff"/>
<rect x="1280" y="285" width="1" height="13" fill="#000"/>
<rect x="1278" y="289" width="5" height="6" fill="#000"/>
<rect x="1288" y="284" width="1" height="19" fill="#000"/>
<rect x="1286" y="293" width="5" height="2" fill="#000"/>
<rect x="1296" y="281" width="1" height="20" fill="#000"/>
<rect x="1294" y="284" width="5" height="10" fill="#000"/>
<rect x="1295" y="285" width="3" height="8" fill="#fff"/>
<rect x="1304" y="275" width="1" height="12" fill="#000"/>
<rect x="1302" y="279" width="5" height="6" fill="#000"/>
<rect x="1303" y="280" width="3" height="4" fill="#fff"/>
<rect x="1312" y="276" width="1" height="24" fill="#000"/>
<rect x="1310" y="279" width="5" height="18" fill="#000"/>
<rect x="1320" y="296" width="1" height="14" fill="#000"/>
<rect x="1318" y="296" width="5" height="14" fill="#000"/>
<rect x="1328" y="308" width="1" height="21" fill="#000"/>
<rect x="1326" y="309" width="5" height="7" fill="#000"/>
<rect x="1336" y="291" width="1" height="31" fill="#000"/>
<rect x="1334" y="294" width="5" height="22" fill="#000"/>
<rect x="1335" y="295" width="3" height="20" fill="#fff"/>
<rect x="1344" y="277" width="1" height="20" fill="#000"/>
<rect x="1342" y="290" width="5" height="5" fill="#000"/>
<rect x="1343" y="291" width="3" height="3" fill="#fff"/>
<rect x="1352" y="281" width="1" height="21" fill="#000"/>
<rect x="1350" y="290" width="5" height="12" fill="#000"/>
<rect x="1246" y="284" width="31" height="8" fill="#00ff00"/>
<rect x="0" y="512" width="1" height="36" fill="#c0c0c0"/>
<rect x="8" y="512" width="1" height="36" fill="#c0c0c0"/>
<rect x="16" y="512" width="1" height="35" fill="#c0c0c0"/>
<rect x="24" y="512" width="1" height="34" fill="#c0c0c0"/>
<rect x="32" y="512" width="1" height="33" fill="#c0c0c0"/>
<rect x="40" y="512" width="1" height="32" fill="#c0c0c0"/>
<rect x="48" y="512" width="1" height="31" fill="#c0c0c0"/>
<rect x="56" y="512" width="1" height="31" fill="#c0c0c0"/>
<rect x="64" y="512" width="1" height="30" fill="#c0c0c0"/>
<rect x="72" y="512" width="1" height="28" fill="#c0c0c0"/>
<rect x="80" y="512" width="1" height="25" fill="#c0c0c0"/>
<rect x="88" y="512" width="1" height="21" fill="#c0c0c0"/>
<rect x="96" y="512" width="1" height="17" fill="#c0c0c0"/>
<rect x="104" y="512" width="1" height="13" fill="#c0c0c0"/>
<rect x="112" y="512" width="1" height="12" fill="#c0c0c0"/>
<rect x="120" y="512" width="1" height="10" fill="#c0c0c0"/>
<rect x="128" y="512" width="1" height="8" fill="#c0c0c0"/>
<rect x="136" y="512" width="1" height="6" fill="#c0c0c0"/>
<rect x="144" y="512" width="1" height="5" fill="#c0c0c0"/>
<rect x="152" y="512" width="1" height="3" fill="#c0c0c0"/>
<rect x="168" y="510" width="1" height="3" fill="#c0c0c0"/>
<rect x="176" y="508" width="1" height="5" fill="#c0c0c0"/>
<rect x="184" y="505" width="1" height="8" fill="#c0c0c0"/>
<rect x="192" y="503" width="1" height="10" fill="#c0c0c0"/>
<rect x="200" y="496" width="1" height="17" fill="#c0c0c0"/>
<rect x="208" y="490" width="1" height="23" fill="#c0c0c0"/>
<rect x="216" y="486" width="1" height="27" fill="#c0c0c0"/>
<rect x="224" y="483" width="1" height="30" fill="#c0c0c0"/>
<rect x="232" y="481" width="1" height="32" fill="#c0c0c0"/>
<rect x="240" y="481" width="1" height="32" fill="#c0c0c0"/>
<rect x="248" y="478" width="1" height="35" fill="#c0c0c0"/>
<rect x="256" y="477" width="1" height="36" fill="#c0c0c0"/>
<rect x="264" y="477" width="1" height="36" fill="#c0c0c0"/>
<rect x="272" y="477" width="1" height="36" fill="#c0c0c0"/>
<rect x="280" y="478" width="1" height="35" fill="#c0c0c0"/>
<rect x="288" y="479" width="1" height="34" fill="#c0c0c0"/>
<rect x="296" y="480" width="1" height="33" fill="#c0c0c0"/>
<rect x="304" y="477" width="1" height="36" fill="#c0c0c0"/>
<rect x="312" y="472" width="1" height="41" fill="#c0c0c0"/>
<rect x="320" y="467" width="1" height="46" fill="#c0c0c0"/>
<rect x="328" y="463" width="1" height="50" fill="#c0c0c0"/>
<rect x="336" y="461" width="1" height="52" fill="#c0c0c0"/>
<rect x="344" y="464" width="1" height="49" fill="#c0c0c0"/>
<rect x="352" y="466" width="1" height="47" fill="#c0c0c0"/>
<rect x="360" y="469" width="1" height="44" fill="#c0c0c0"/>
<rect x="368" y="471" width="1" height="42" fill="#c0c0c0"/>
<rect x="376" y="474" width="1" height="39" fill="#c0c0c0"/>
<rect x="384" y="477" width="1" height="36" fill="#c0c0c0"/>
<rect x="392" y="481" width="1" height="32" fill="#c0c0c0"/>
<rect x="400" y="490" width="1" height="23" fill="#c0c0c0"/>
<rect x="408" y="499" width="1" height="14" fill="#c0c0c0"/>
<rect x="416" y="506" width="1" height="7" fill="#c0c0c0"/>
<rect x="424" y="511" width="1" height="2" fill="#c0c0c0"/>
<rect x="440" y="512" width="1" height="5" fill="#c0c0c0"/>
<rect x="448" y="512" width="1" height="11" fill="#c0c0c0"/>
<rect x="456" y="512" width="1" height="18" fill="#c0c0c0"/>
<rect x="464" y="512" width="1" height="22" fill="#c0c0c0"/>
<rect x="472" y="512" width="1" height="27" fill="#c0c0c0"/>
<rect x="480" y="512" width="1" height="33" fill="#c0c0c0"/>
<rect x="488" y="512" width="1" height="34" fill="#c0c0c0"/>
<rect x="496" y="512" width="1" height="31" fill="#c0c0c0"/>
<rect x="504" y="512" width="1" height="30" fill="#c0c0c0"/>
<rect x="512" y="512" width="1" height="30" fill="#c0c0c0"/>
<rect x="520" y="512" width="1" height="28" fill="#c0c0c0"/>
<rect x="528" y="512" width="1" height="29" fill="#c0c0c0"/>
<rect x="536" y="512" width="1" height="31" fill="#c0c0c0"/>
<rect x="544" y="512" width="1" height="36" fill="#c0c0c0"/>
<rect x="552" y="512" width="1" height="40" fill="#c0c0c0"/>
<rect x="560" y="512" width="1" height="42" fill="#c0c0c0"/>
<rect x="568" y="512" width="1" height="43" fill="#c0c0c0"/>
<rect x="576" y="512" width="1" height="42" fill="#c0c0c0"/>
<rect x="584" y="512" width="1" height="45" fill="#c0c0c0"/>
<rect x="592" y="512" width="1" height="43" fill="#c0c0c0"/>
<rect x="600" y="512" width="1" height="39" fill="#c0c0c0"/>
<rect x="608" y="512" width="1" height="37" fill="#c0c0c0"/>
<rect x="616" y="512" width="1" height="34" fill="#c0c0c0"/>
<rect x="624" y="512" width="1" height="28" fill="#c0c0c0"/>
<rect x="632" y="512" width="1" height="25" fill="#c0c0c0"/>
<rect x="640" y="512" width="1" height="23" fill="#c0c0c0"/>
<rect x="648" y="512" width="1" height="22" fill="#c0c0c0"/>
<rect x="656" y="512" width="1" height="20" fill="#c0c0c0"/>
<rect x="664" y="512" width="1" height="17" fill="#c0c0c0"/>
<rect x="672" y="512" width="1" height="15" fill="#c0c0c0"/>
<rect x="680" y="512" width="1" height="11" fill="#c0c0c0"/>
<rect x="688" y="512" width="1" height="8" fill="#c0c0c0"/>
<rect x="696" y="512" width="1" height="7" fill="#c0c0c0"/>
<rect x="704" y="512" width="1" height="5" fill="#c0c0c0"/>
<rect x="712" y="512" width="1" height="3" fill="#c0c0c0"/>
<rect x="720" y="512" width="1" height="4" fill="#c0c0c0"/>
<rect x="728" y="512" width="1" height="3" fill="#c0c0c0"/>
<rect x="736" y="512" width="1" height="4" fill="#c0c0c0"/>
<rect x="744" y="512" width="1" height="3" fill="#c0c0c0"/>
<rect x="752" y="512" width="1" height="5" fill="#c0c0c0"/>
<rect x="760" y="512" width="1" height="7" fill="#c0c0c0"/>
<rect x="768" y="512" width="1" height="8" fill="#c0c0c0"/>
<rect x="776" y="512" width="1" height="10" fill="#c0c0c0"/>
<rect x="784" y="512" width="1" height="14" fill="#c0c0c0"/>
<rect x="792" y="512" width="1" height="18" fill="#c0c0c0"/>
<rect x="800" y="512" width="1" height="20" fill="#c0c0c0"/>
<rect x="808" y="512" width="1" height="20" fill="#c0c0c0"/>
<rect x="816" y="512" width="1" height="21" fill="#c0c0c0"/>
<rect x="824" y="512" width="1" height="23" fill="#c0c0c0"/>
<rect x="832" y="512" width="1" height="25" fill="#c0c0c0"/>
<rect x="840" y="512" width="1" height="30" fill="#c0c0c0"/>
<rect x="848" y="512" width="1" height="33" fill="#c0c0c0"/>
<rect x="856" y="512" width="1" height="35" fill="#c0c0c0"/>
<rect x="864" y="512" width="1" height="36" fill="#c0c0c0"/>
<rect x="872" y="512" width="1" height="36" fill="#c0c0c0"/>
<rect x="880" y="512" width="1" height="36" fill="#c0c0c0"/>
<rect x="888" y="512" width="1" height="38" fill="#c0c0c0"/>
<rect x="896" y="512" width="1" height="38" fill="#c0c0c0"/>
<rect x="904" y="512" width="1" height="36" fill="#c0c0c0"/>
<rect x="912" y="512" width="1" height="35" fill="#c0c0c0"/>
<rect x="920" y="512" width="1" height="32" fill="#c0c0c0"/>
<rect x="928" y="512" width="1" height="28" fill="#c0c0c0"/>
<rect x="936" y="512" width="1" height="32" fill="#c0c0c0"/>
<rect x="944" y="512" width="1" height="34" fill="#c0c0c0"/>
<rect x="952" y="512" width="1" height="38" fill="#c0c0c0"/>
<rect x="960" y="512" width="1" height="41" fill="#c0c0c0"/>
<rect x="968" y="512" width="1" height="41" fill="#c0c0c0"/>
<rect x="976" y="512" width="1" height="42" fill="#c0c0c0"/>
<rect x="984" y="512" width="1" height="47" fill="#c0c0c0"/>
<rect x="992" y="512" width="1" height="49" fill="#c0c0c0"/>
<rect x="1000" y="512" width="1" height="50" fill="#c0c0c0"/>
<rect x="1008" y="512" width="1" height="50" fill="#c0c0c0"/>
<rect x="1016" y="512" width="1" height="51" fill="#c0c0c0"/>
<rect x="1024" y="512" width="1" height="49" fill="#c0c0c0"/>
<rect x="1032" y="512" width="1" height="53" fill="#c0c0c0"/>
<rect x="1040" y="512" width="1" height="58" fill="#c0c0c0"/>
<rect x="1048" y="512" width="1" height="61" fill="#c0c0c0"/>
<rect x="1056" y="512" width="1" height="62" fill="#c0c0c0"/>
<rect x="1064" y="512" width="1" height="62" fill="#c0c0c0"/>
<rect x="1072" y="512" width="1" height="61" fill="#c0c0c0"/>
<rect x="1080" y="512" width="1" height="64" fill="#c0c0c0"/>
<rect x="1088" y="512" width="1" height="72" fill="#c0c0c0"/>
<rect x="1096" y="512" width="1" height="78" fill="#c0c0c0"/>
<rect x="1104" y="512" width="1" height="82" fill="#c0c0c0"/>
<rect x="1112" y="512" width="1" height="84" fill="#c0c0c0"/>
<rect x="1120" y="512" width="1" height="82" fill="#c0c0c0"/>
<rect x="1128" y="512" width="1" height="82" fill="#c0c0c0"/>
<rect x="1136" y="512" width="1" height="71" fill="#c0c0c0"/>
<rect x="1144" y="512" width="1" height="56" fill="#c0c0c0"/>
<rect x="1152" y="512" width="1" height="44" fill="#c0c0c0"/>
<rect x="1160" y="512" width="1" height="35" fill="#c0c0c0"/>
<rect x="1168" y="512" width="1" height="30" fill="#c0c0c0"/>
<rect x="1176" y="512" width="1" height="27" fill="#c0c0c0"/>
<rect x="1184" y="512" width="1" height="23" fill="#c0c0c0"/>
<rect x="1192" y="512" width="1" height="14" fill="#c0c0c0"/>
<rect x="1200" y="512" width="1" height="4" fill="#c0c0c0"/>
<rect x="1208" y="510" width="1" height="3" fill="#c0c0c0"/>
<rect x="1216" y="503" width="1" height="10" fill="#c0c0c0"/>
<rect x="1224" y="500" width="1" height="13" fill="#c0c0c0"/>
<rect x="1232" y="494" width="1" height="19" fill="#c0c0c0"/>
<rect x="1240" y="493" width="1" height="20" fill="#c0c0c0"/>
<rect x="1248" y="492" width="1" height="21" fill="#c0c0c0"/>
<rect x="1256" y="490" width="1" height="23" fill="#c0c0c0"/>
<rect x="1264" y="488" width="1" height="25" fill="#c0c0c0"/>
<rect x="1272" y="487" width="1" height="26" fill="#c0c0c0"/>
<rect x="1280" y="487" width="1" height="26" fill="#c0c0c0"/>
<rect x="1288" y="488" width="1" height="25" fill="#c0c0c0"/>
<rect x="1296" y="487" width="1" height="26" fill="#c0c0c0"/>
<rect x="1304" y="486" width="1" height="27" fill="#c0c0c0"/>
<rect x="1312" y="488" width="1" height="25" fill="#c0c0c0"/>
<rect x="1320" y="492" width="1" height="21" fill="#c0c0c0"/>
<rect x="1328" y="496" width="1" height="17" fill="#c0c0c0"/>
<rect x="1336" y="496" width="1" height="17" fill="#c0c0c0"/>
<rect x="1344" y="496" width="1" height="17" fill="#c0c0c0"/>
<rect x="1352" y="498" width="1" height="15" fill="#c0c0c0"/>
<polyline points="0,550.1 8,549.9 16,549.6 24,549.2 32,548.6 40,548.0 48,547.2 56,546.4 64,545.5 72,544.6 80,543.4 88,541.8 96,539.8 104,537.6 112,535.3 120,533.0 128,530.4 136,527.7 144,525.2 152,522.8 160,520.5 168,518.4 176,516.6 184,514.5 192,512.4 200,509.8 208,506.8 216,503.3 224,499.8 232,496.4 240,493.2 248,489.8 256,486.7 264,483.8 272,481.7 280,480.3 288,479.5 296,479.2 304,478.7 312,477.7 320,476.5 328,475.0 336,473.2 344,471.8 352,470.5 360,469.3 368,468.3 376,468.0 384,468.6 392,470.1 400,473.1 408,477.2 416,481.9 424,486.9 432,491.8 440,496.8 448,502.2 456,508.1 464,513.9 472,519.4 480,524.5 488,528.9 496,532.4 504,535.7 512,538.5 520,540.3 528,541.6 536,542.5 544,543.5 552,544.3 560,545.2 568,546.5 576,547.9 584,549.6 592,551.3 600,552.4 608,553.1 616,552.9 624,551.5 632,549.6 640,547.4 648,545.2 656,542.4 664,539.6 672,536.9 680,534.0 688,531.1 696,528.8 704,526.6 712,524.4 720,522.4 728,520.6 736,519.0 744,517.7 752,517.1 760,517.0 768,517.1 776,517.7 784,518.9 792,520.4 800,522.3 808,524.1 816,526.0 824,528.0 832,530.0 840,532.4 848,534.9 856,537.3 864,539.3 872,541.1 880,542.9 888,544.8 896,546.5 904,547.7 912,548.3 920,548.2 928,547.4 936,547.0 944,546.8 952,547.0 960,547.3 968,547.6 976,548.3 984,549.6 992,551.5 1000,553.9 1008,556.0 1016,557.8 1024,559.1 1032,560.4 1040,562.3 1048,564.4 1056,566.1 1064,567.5 1072,568.8 1080,570.3 1088,572.6 1096,575.8 1104,579.1 1112,582.0 1120,584.3 1128,586.5 1136,587.4 1144,586.9 1152,584.6 1160,580.5 1168,575.2 1176,569.0 1184,562.3 1192,554.8 1200,546.1 1208,538.1 1216,530.9 1224,524.7 1232,518.8 1240,513.4 1248,508.2 1256,503.2 1264,499.0 1272,495.7 1280,493.1 1288,491.5 1296,490.0 1304,489.2 1312,488.6 1320,488.6 1328,489.3 1336,490.2 1344,491.2 1352,492.4" fill="none" stroke="#ff0000" stroke-width="1" stroke-dasharray="3,3" shape-rendering="crispEdges"/>
<line x1="0" y1="636.5" x2="1586" y2="636.5" stroke="#c0c0c0" stroke-width="1" stroke-dasharray="3,3"/>
<line x1="0" y1="680.5" x2="1586" y2="680.5" stroke="#c0c0c0" stroke-width="1" stroke-dasharray="3,3"/>
<line x1="0" y1="732.5" x2="1586" y2="732.5" stroke="#c0c0c0" stroke-width="1" stroke-dasharray="3,3"/>
<polyline points="0.5,717.8 8.5,717.8 16.5,710.9 24.5,710.9 32.5,712.0 40.5,714.9 48.5,712.0 56.5,715.7 64.5,706.3 72.5,702.1 80.5,693.8 88.5,684.4 96.5,672.9 104.5,676.5 112.5,684.8 120.5,680.6 128.5,678.8 136.5,680.8 144.5,679.8 152.5,671.9 160.5,663.9 168.5,663.9 176.5,660.4 184.5,657.3 192.5,653.5 200.5,639.5 208.5,636.0 216.5,636.8 224.5,640.1 232.5,642.6 240.5,646.8 248.5,637.4 256.5,649.9 264.5,648.9 272.5,650.6 280.5,662.5 288.5,657.3 296.5,652.7 304.5,647.9 312.5,636.0 320.5,636.0 328.5,633.9 336.5,641.6 344.5,660.4 352.5,658.9 360.5,658.9 368.5,663.5 376.5,665.6 384.5,665.0 392.5,670.2 400.5,696.5 408.5,699.6 416.5,700.7 424.5,698.0 432.5,698.0 440.5,695.9 448.5,708.4 456.5,712.6 464.5,706.3 472.5,711.5 480.5,716.8 488.5,702.1 496.5,689.0 504.5,692.3 512.5,696.9 520.5,693.8 528.5,693.8 536.5,707.4 544.5,704.2 552.5,709.9 560.5,706.7 568.5,701.5 576.5,700.1 584.5,709.0 592.5,694.4 600.5,691.1 608.5,693.2 616.5,689.6 624.5,679.8 632.5,683.3 640.5,687.5 648.5,690.7 656.5,684.0 664.5,686.7 672.5,682.7 680.5,675.0 688.5,678.5 696.5,680.6 704.5,678.5 712.5,677.1 720.5,686.5 728.5,681.9 736.5,684.0 744.5,683.3 752.5,689.6 760.5,691.7 768.5,692.7 776.5,695.9 784.5,703.6 792.5,704.9 800.5,701.5 808.5,699.0 816.5,701.5 824.5,703.2 832.5,706.9 840.5,718.2 848.5,712.0 856.5,712.6 864.5,712.6 872.5,710.5 880.5,706.7 888.5,715.7 896.5,707.4 904.5,703.2 912.5,701.5 920.5,695.9 928.5,688.2 936.5,708.4 944.5,711.1 952.5,714.0 960.5,715.7 968.5,704.2 976.5,708.4 984.5,716.8 992.5,712.0 1000.5,712.0 1008.5,710.9 1016.5,712.6 1024.5,705.9 1032.5,717.4 1040.5,721.6 1048.5,719.5 1056.5,714.0 1064.5,714.0 1072.5,714.9 1080.5,722.0 1088.5,729.9 1096.5,728.9 1104.5,729.9 1112.5,725.7 1120.5,718.2 1128.5,719.9 1136.5,685.4 1144.5,674.0 1152.5,674.4 1160.5,677.7 1168.5,683.3 1176.5,686.9 1184.5,683.3 1192.5,668.1 1200.5,665.2 1208.5,667.7 1216.5,663.9 1224.5,671.5 1232.5,665.2 1240.5,675.0 1248.5,671.9 1256.5,670.8 1264.5,669.4 1272.5,670.2 1280.5,671.9 1288.5,670.8 1296.5,668.1 1304.5,666.0 1312.5,675.0 1320.5,681.9 1328.5,685.1 1336.5,675.0 1344.5,672.9 1352.5,678.0" fill="none" stroke="#1e90ff" stroke-width="1" shape-rendering="crispEdges"/>
<rect x="1587" y="51" width="2" height="1" fill="#000"/>
<text x="1592" y="56" font-family="'Liberation Sans', 'DejaVu Sans', sans-serif" font-size="10" letter-spacing="-0.3" fill="#000">26083.5</text>
<rect x="1587" y="84" width="2" height="1" fill="#000"/>
<text x="1592" y="89" font-family="'Liberation Sans', 'DejaVu Sans', sans-serif" font-size="10" letter-spacing="-0.3" fill="#000">25692.5</text>
<rect x="1587" y="117" width="2" height="1" fill="#000"/>
<text x="1592" y="122" font-family="'Liberation Sans', 'DejaVu Sans', sans-serif" font-size="10" letter-spacing="-0.3" fill="#000">25301.5</text>
<rect x="1587" y="150" width="2" height="1" fill="#000"/>
<text x="1592" y="155" font-family="'Liberation Sans', 'DejaVu Sans', sans-serif" font-size="10" letter-spacing="-0.3" fill="#000">24899.0</text>
<rect x="1587" y="183" width="2" height="1" fill="#000"/>
<text x="1592" y="188" font-family="'Liberation Sans', 'DejaVu Sans', sans-serif" font-size="10" letter-spacing="-0.3" fill="#000">24508.0</text>
<rect x="1587" y="216" width="2" height="1" fill="#000"/>
<text x="1592" y="221" font-family="'Liberation Sans', 'DejaVu Sans', sans-serif" font-size="10" letter-spacing="-0.3" fill="#000">24117.0</text>
<rect x="1587" y="249" width="2" height="1" fill="#000"/>
<text x="1592" y="254" font-family="'Liberation Sans', 'DejaVu Sans', sans-serif" font-size="10" letter-spacing="-0.3" fill="#000">23726.0</text>
<rect x="1587" y="282" width="2" height="1" fill="#000"/>
<text x="1592" y="287" font-family="'Liberation Sans', 'DejaVu Sans', sans-serif" font-size="10" letter-spacing="-0.3" fill="#000">23335.0</text>
<rect x="1587" y="315" width="2" height="1" fill="#000"/>
<text x="1592" y="320" font-family="'Liberation Sans', 'DejaVu Sans', sans-serif" font-size="10" letter-spacing="-0.3" fill="#000">22944.0</text>
<rect x="1587" y="348" width="2" height="1" fill="#000"/>
<text x="1592" y="353" font-family="'Liberation Sans', 'DejaVu Sans', sans-serif" font-size="10" letter-spacing="-0.3" fill="#000">22541.5</text>
<rect x="1587" y="381" width="2" height="1" fill="#000"/>
<text x="1592" y="386" font-family="'Liberation Sans', 'DejaVu Sans', sans-serif" font-size="10" letter-spacing="-0.3" fill="#000">22150.5</text>
<rect x="1587" y="414" width="2" height="1" fill="#000"/>
<text x="1592" y="419" font-family="'Liberation Sans', 'DejaVu Sans', sans-serif" font-size="10" letter-spacing="-0.3" fill="#000">21759.5</text>
<rect x="1587" y="447" width="2" height="1" fill="#000"/>
<text x="1592" y="452" font-family="'Liberation Sans', 'DejaVu Sans', sans-serif" font-size="10" letter-spacing="-0.3" fill="#000">21368.5</text>
<rect x="1587" y="454" width="2" height="1" fill="#000"/>
<rect x="1587" y="512" width="2" height="1" fill="#000"/>
<rect x="1587" y="602" width="2" height="1" fill="#000"/>
<text x="1590" y="463" font-family="'Liberation Sans', 'DejaVu Sans', sans-serif" font-size="10" letter-spacing="-0.3" fill="#000">343.69</text>
<text x="1590" y="516" font-family="'Liberation Sans', 'DejaVu Sans', sans-serif" font-size="10" letter-spacing="-0.3" fill="#000">0.00</text>
<text x="1590" y="600" font-family="'Liberation Sans', 'DejaVu Sans', sans-serif" font-size="10" letter-spacing="-0.3" fill="#000">-533.3</text>
<rect x="1587" y="607" width="2" height="1" fill="#000"/>
<rect x="1587" y="636" width="2" height="1" fill="#000"/>
<rect x="1587" y="680" width="2" height="1" fill="#000"/>
<rect x="1587" y="732" width="2" height="1" fill="#000"/>
<rect x="1587" y="753" width="2" height="1" fill="#000"/>
<text x="1590" y="617" font-family="'Liberation Sans', 'DejaVu Sans', sans-serif" font-size="10" letter-spacing="-0.3" fill="#000">100</text>
<text x="1590" y="640" font-family="'Liberation Sans', 'DejaVu Sans', sans-serif" font-size="10" letter-spacing="-0.3" fill="#000">80</text>
<text x="1590" y="684" font-family="'Liberation Sans', 'DejaVu Sans', sans-serif" font-size="10" letter-spacing="-0.3" fill="#000">50</text>
<text x="1590" y="736" font-family="'Liberation Sans', 'DejaVu Sans', sans-serif" font-size="10" letter-spacing="-0.3" fill="#000">15</text>
<text x="1590" y="752" font-family="'Liberation Sans', 'DejaVu Sans', sans-serif" font-size="10" letter-spacing="-0.3" fill="#000">0</text>
<rect x="1588" y="256" width="41" height="11" fill="#ff4500"/>
<text x="1592" y="266" font-family="'Liberation Sans', 'DejaVu Sans', sans-serif" font-size="10" letter-spacing="-0.3" fill="#fff">23575.1</text>
<rect x="1588" y="271" width="41" height="11" fill="#ff4500"/>
<text x="1592" y="281" font-family="'Liberation Sans', 'DejaVu Sans', sans-serif" font-size="10" letter-spacing="-0.3" fill="#fff">23390.0</text>
<rect x="1588" y="281" width="41" height="11" fill="#32cd32"/>
<text x="1592" y="291" font-family="'Liberation Sans', 'DejaVu Sans', sans-serif" font-size="10" letter-spacing="-0.3" fill="#fff">23266.6</text>
<rect x="1588" y="295" width="41" height="11" fill="#000000"/>
<text x="1592" y="305" font-family="'Liberation Sans', 'DejaVu Sans', sans-serif" font-size="10" letter-spacing="-0.3" fill="#fff">23110.0</text>
<rect x="1588" y="307" width="41" height="11" fill="#0000ff"/>
<text x="1592" y="317" font-family="'Liberation Sans', 'DejaVu Sans', sans-serif" font-size="10" letter-spacing="-0.3" fill="#fff">22958.1</text>
<rect x="1588" y="321" width="41" height="11" fill="#0000ff"/>
<text x="1592" y="331" font-family="'Liberation Sans', 'DejaVu Sans', sans-serif" font-size="10" letter-spacing="-0.3" fill="#fff">22797.6</text>
<rect x="0" y="756" width="1" height="3" fill="#000"/>
<text x="0" y="768" font-family="'Liberation Sans', 'DejaVu Sans', sans-serif" font-size="10" letter-spacing="-0.2" fill="#000">22 Nov 2018</text>
<rect x="64" y="756" width="1" height="3" fill="#000"/>
<text x="64" y="768" font-family="'Liberation Sans', 'DejaVu Sans', sans-serif" font-size="10" letter-spacing="-0.2" fill="#000">25 Nov 23:00</text>
<rect x="128" y="756" width="1" height="3" fill="#000"/>
<text x="128" y="768" font-family="'Liberation Sans', 'DejaVu Sans', sans-serif" font-size="10" letter-spacing="-0.2" fill="#000">27 Nov 04:00</text>
<rect x="192" y="756" width="1" height="3" fill="#000"/>
<text x="192" y="768" font-family="'Liberation Sans', 'DejaVu Sans', sans-serif" font-size="10" letter-spacing="-0.2" fill="#000">28 Nov 12:00</text>
<rect x="256" y="756" width="1" height="3" fill="#000"/>
<text x="256" y="768" font-family="'Liberation Sans', 'DejaVu Sans', sans-serif" font-size="10" letter-spacing="-0.2" fill="#000">29 Nov 20:00</text>
<rect x="320" y="756" width="1" height="3" fill="#000"/>
<text x="320" y="768" font-family="'Liberation Sans', 'DejaVu Sans', sans-serif" font-size="10" letter-spacing="-0.2" fill="#000">3 Dec 00:00</text>
<rect x="384" y="756" width="1" height="3" fill="#000"/>
<text x="384" y="768" font-family="'Liberation Sans', 'DejaVu Sans', sans-serif" font-size="10" letter-spacing="-0.2" fill="#000">4 Dec 08:00</text>
<rect x="448" y="756" width="1" height="3" fill="#000"/>
<text x="448" y="768" font-family="'Liberation Sans', 'DejaVu Sans', sans-serif" font-size="10" letter-spacing="-0.2" fill="#000">5 Dec 23:00</text>
<rect x="512" y="756" width="1" height="3" fill="#000"/>
<text x="512" y="768" font-family="'Liberation Sans', 'DejaVu Sans', sans-serif" font-size="10" letter-spacing="-0.2" fill="#000">7 Dec 04:00</text>
<rect x="576" y="756" width="1" height="3" fill="#000"/>
<text x="576" y="768" font-family="'Liberation Sans', 'DejaVu Sans', sans-serif" font-size="10" letter-spacing="-0.2" fill="#000">10 Dec 08:00</text>
<rect x="640" y="756" width="1" height="3" fill="#000"/>
<text x="640" y="768" font-family="'Liberation Sans', 'DejaVu Sans', sans-serif" font-size="10" letter-spacing="-0.2" fill="#000">11 Dec 16:00</text>
<rect x="704" y="756" width="1" height="3" fill="#000"/>
<text x="704" y="768" font-family="'Liberation Sans', 'DejaVu Sans', sans-serif" font-size="10" letter-spacing="-0.2" fill="#000">13 Dec 00:00</text>
<rect x="768" y="756" width="1" height="3" fill="#000"/>
<text x="768" y="768" font-family="'Liberation Sans', 'DejaVu Sans', sans-serif" font-size="10" letter-spacing="-0.2" fill="#000">14 Dec 08:00</text>
<rect x="832" y="756" width="1" height="3" fill="#000"/>
<text x="832" y="768" font-family="'Liberation Sans', 'DejaVu Sans', sans-serif" font-size="10" letter-spacing="-0.2" fill="#000">17 Dec 12:00</text>
<rect x="896" y="756" width="1" height="3" fill="#000"/>
<text x="896" y="768" font-family="'Liberation Sans', 'DejaVu Sans', sans-serif" font-size="10" letter-spacing="-0.2" fill="#000">18 Dec 20:00</text>
<rect x="960" y="756" width="1" height="3" fill="#000"/>
<text x="960" y="768" font-family="'Liberation Sans', 'DejaVu Sans', sans-serif" font-size="10" letter-spacing="-0.2" fill="#000">20 Dec 04:00</text>
<rect x="1024" y="756" width="1" height="3" fill="#000"/>
<text x="1024" y="768" font-family="'Liberation Sans', 'DejaVu Sans', sans-serif" font-size="10" letter-spacing="-0.2" fill="#000">21 Dec 12:00</text>
<rect x="1088" y="756" width="1" height="3" fill="#000"/>
<text x="1088" y="768" font-family="'Liberation Sans', 'DejaVu Sans', sans-serif" font-size="10" letter-spacing="-0.2" fill="#000">24 Dec 16:00</text>
<rect x="1152" y="756" width="1" height="3" fill="#000"/>
<text x="1152" y="768" font-family="'Liberation Sans', 'DejaVu Sans', sans-serif" font-size="10" letter-spacing="-0.2" fill="#000">27 Dec 00:00</text>
<rect x="1216" y="756" width="1" height="3" fill="#000"/>
<text x="1216" y="768" font-family="'Liberation Sans', 'DejaVu Sans', sans-serif" font-size="10" letter-spacing="-0.2" fill="#000">28 Dec 08:00</text>
<rect x="1280" y="756" width="1" height="3" fill="#000"/>
<text x="1280" y="768" font-family="'Liberation Sans', 'DejaVu Sans', sans-serif" font-size="10" letter-spacing="-0.2" fill="#000">31 Dec 12:00</text>
<rect x="1344" y="756" width="1" height="3" fill="#000"/>
<text x="1344" y="768" font-family="'Liberation Sans', 'DejaVu Sans', sans-serif" font-size="10" letter-spacing="-0.2" fill="#000">2 Jan 16:00</text>
<rect x="0" y="776" width="1629" height="1" fill="#e3e3e3"/>
<polygon points="3,41 10,41 6.5,37" fill="#000"/>
<text x="15" y="42" font-family="'Liberation Sans', 'DejaVu Sans', sans-serif" font-size="10" letter-spacing="-0.2" fill="#000">DJ30-,H4</text><text x="60" y="42" font-family="'Liberation Sans', 'DejaVu Sans', sans-serif" font-size="10" letter-spacing="-0.3" fill="#000">23234.0 23337.0 23099.0 23110.0</text>
<text x="4" y="465" font-family="'Liberation Sans', 'DejaVu Sans', sans-serif" font-size="10" letter-spacing="-0.2" fill="#000">MACD(12,26,9) 88.50 124.13</text>
<text x="4" y="618" font-family="'Liberation Sans', 'DejaVu Sans', sans-serif" font-size="10" letter-spacing="-0.2" fill="#000">RSI(14) 51.8367</text>
<text x="1012" y="300" font-size="22" fill="#00ff00"><tspan dy="1" font-family="'Liberation Serif', 'Noto Serif CJK SC', serif" font-weight="500">多空转折点</tspan><tspan dx="3" dy="-1" font-family="'Liberation Sans', 'DejaVu Sans', sans-serif" font-weight="bold" font-size="22">23266</tspan></text>
<rect x="0" y="114" width="222" height="2" fill="#fff"/>

<defs>
<linearGradient id="gTab" x1="0" y1="0" x2="0" y2="1"><stop offset="0" stop-color="#fb5656"/><stop offset="1" stop-color="#e83a3a"/></linearGradient>
<linearGradient id="gLow" x1="0" y1="0" x2="0" y2="1"><stop offset="0" stop-color="#dc3030"/><stop offset="1" stop-color="#b00000"/></linearGradient>
<linearGradient id="gBtn" x1="0" y1="0" x2="0" y2="1"><stop offset="0" stop-color="#f0f0f0"/><stop offset="1" stop-color="#e0e0e0"/></linearGradient>
</defs>
<path d="M3.5,50.5 H54.5 V74.5 H111.5 V113.5 H3.5 Z" fill="url(#gLow)" stroke="#c00000"/>
<path d="M3.5,50.5 H54.5 V74.5 H3.5 Z" fill="url(#gTab)"/>
<path d="M221.5,50.5 H170.5 V74.5 H114.5 V113.5 H221.5 Z" fill="url(#gLow)" stroke="#c00000"/>
<path d="M221.5,50.5 H170.5 V74.5 H221.5 Z" fill="url(#gTab)"/>
<rect x="4" y="51" width="50" height="23" fill="url(#gTab)"/>
<rect x="171" y="51" width="50" height="23" fill="url(#gTab)"/>
<rect x="7" y="73" width="44" height="1" fill="#8a0000"/><rect x="7" y="74" width="44" height="1" fill="#f08080"/>
<rect x="174" y="73" width="44" height="1" fill="#8a0000"/><rect x="174" y="74" width="44" height="1" fill="#f08080"/>
<rect x="57.5" y="50.5" width="109" height="21" fill="#fff" stroke="#a9adb5"/>
<rect x="58" y="51" width="20" height="20" fill="url(#gBtn)"/>
<rect x="78" y="51" width="1" height="20" fill="#a9adb5"/>
<rect x="146" y="51" width="1" height="20" fill="#a9adb5"/>
<rect x="147" y="51" width="19" height="20" fill="url(#gBtn)"/>
<polygon points="64.5,58.5 70.5,58.5 67.5,62" fill="#000"/>
<polygon points="153.5,62 159.5,62 156.5,58.5" fill="#000"/>

<text x="142.5" y="65" text-anchor="end" font-family="'Liberation Sans', 'DejaVu Sans', sans-serif" font-size="12" fill="#000">0.10</text>
<text x="15.5" y="66" font-family="'Liberation Sans', 'DejaVu Sans', sans-serif" font-size="12" letter-spacing="-0.9" fill="#ffe8e8">SELL</text>
<text x="183" y="66" font-family="'Liberation Sans', 'DejaVu Sans', sans-serif" font-size="12" letter-spacing="-0.9" fill="#ffe8e8">BUY</text>
<text x="19" y="105" font-family="'Liberation Sans', 'DejaVu Sans', sans-serif" font-size="12" font-weight="bold" letter-spacing="0.4" fill="#fff">23108</text>
<text transform="translate(57,105) scale(0.87,1)" x="0" y="0" font-family="'Liberation Sans', 'DejaVu Sans', sans-serif" font-size="33" fill="#fff">.5</text>
<text x="129" y="105" font-family="'Liberation Sans', 'DejaVu Sans', sans-serif" font-size="12" font-weight="bold" letter-spacing="0.4" fill="#fff">23118</text>
<text transform="translate(167,105) scale(0.87,1)" x="0" y="0" font-family="'Liberation Sans', 'DejaVu Sans', sans-serif" font-size="33" fill="#fff">.5</text>
</g>
</svg>
</body></html>
